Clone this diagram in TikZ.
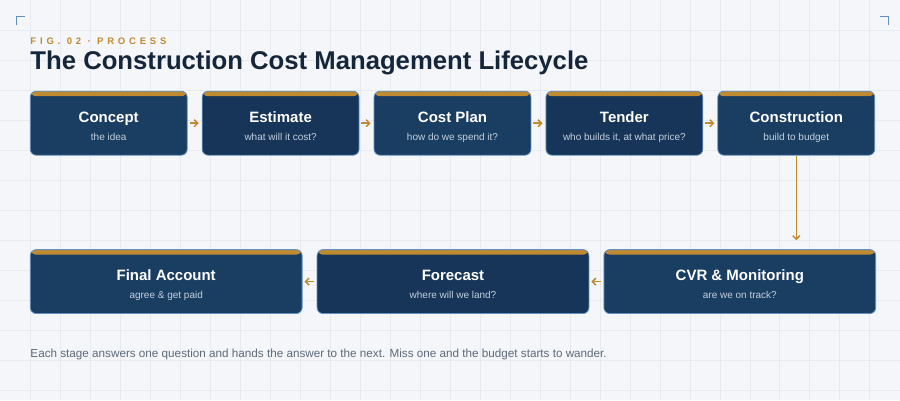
\documentclass[tikz,border=0pt]{standalone}
\usepackage{fontspec}
\setmainfont{Liberation Sans}
\usepackage{tikz}
\usetikzlibrary{arrows.meta}

\definecolor{paper}{HTML}{F4F6FA}
\definecolor{gridline}{HTML}{E7EBF1}
\definecolor{navy}{HTML}{1A3D62}
\definecolor{navydark}{HTML}{163558}
\definecolor{edge}{HTML}{6290C0}
\definecolor{gold}{HTML}{C08A30}
\definecolor{ink}{HTML}{16263A}
\definecolor{subtext}{HTML}{C3D0DF}
\definecolor{note}{HTML}{5C6A7A}

\begin{document}
\begin{tikzpicture}[x=1pt, y=-1pt,
    stage/.style={draw=edge, line width=0.8pt, fill=navy, rounded corners=6pt,
        minimum height=64pt, align=center, text=white,
        font=\fontsize{10}{18}\selectfont, text height=34pt, text depth=0pt,
        path picture={\fill[gold] (path picture bounding box.north west)
            rectangle ([yshift=-5pt]path picture bounding box.north east);}},
    small/.style={stage, minimum width=157pt},
    wide/.style={stage, minimum width=272pt},
    flow/.style={gold, line width=1.5pt, -{Straight Barb[length=3.5pt,width=7pt]}},
    corner/.style={edge, line width=1pt}]
    \fill[paper] (0,0) rectangle (900,400);
    \foreach \gx in {30,60,...,870} \draw[gridline, line width=0.6pt] (\gx,0) -- (\gx,400);
    \foreach \gy in {30,60,...,390} \draw[gridline, line width=0.6pt] (0,\gy) -- (900,\gy);
    \useasboundingbox (0,0) rectangle (900,400);

    % corner marks
    \draw[corner] (16,25) -- (16,16) -- (25,16);
    \draw[corner] (880,16) -- (889,16) -- (889,25);

    % heading
    \node[anchor=base west, inner sep=0, text=gold,
        font=\fontsize{9.5}{11}\selectfont\bfseries\addfontfeature{LetterSpace=40}]
        (fig) at (30,44) {FIG. 02 · PROCESS};
    \node[anchor=base west, inner sep=0, text=ink,
        font=\fontsize{25.7}{30}\selectfont\bfseries]
        (title) at (30,69) {The Construction Cost Management Lifecycle};

    % top row
    \node[small] (concept) at (108.5,123)
        {{\fontsize{15}{18}\selectfont\bfseries Concept}\\\textcolor{subtext}{the idea}};
    \node[small, fill=navydark] (estimate) at (280.5,123)
        {{\fontsize{15}{18}\selectfont\bfseries Estimate}\\\textcolor{subtext}{what will it cost?}};
    \node[small] (costplan) at (452.5,123)
        {{\fontsize{15}{18}\selectfont\bfseries Cost Plan}\\\textcolor{subtext}{how do we spend it?}};
    \node[small, fill=navydark] (tender) at (624.5,123)
        {{\fontsize{15}{18}\selectfont\bfseries Tender}\\\textcolor{subtext}{who builds it, at what price?}};
    \node[small] (construction) at (796.5,123)
        {{\fontsize{15}{18}\selectfont\bfseries Construction}\\\textcolor{subtext}{build to budget}};

    % bottom row
    \node[wide] (finalacc) at (166,281.5)
        {{\fontsize{15}{18}\selectfont\bfseries Final Account}\\\textcolor{subtext}{agree \& get paid}};
    \node[wide, fill=navydark] (forecast) at (453,281.5)
        {{\fontsize{15}{18}\selectfont\bfseries Forecast}\\\textcolor{subtext}{where will we land?}};
    \node[wide] (cvr) at (740,281.5)
        {{\fontsize{15}{18}\selectfont\bfseries CVR \& Monitoring}\\\textcolor{subtext}{are we on track?}};

    % arrows
    \draw[flow, shorten <=2pt, shorten >=3pt] (concept) -- (estimate);
    \draw[flow, shorten <=2pt, shorten >=3pt] (estimate) -- (costplan);
    \draw[flow, shorten <=2pt, shorten >=3pt] (costplan) -- (tender);
    \draw[flow, shorten <=2pt, shorten >=3pt] (tender) -- (construction);
    \draw[flow, shorten >=9pt] (construction.south) -- (construction.south |- cvr.north);
    \draw[flow, shorten <=3pt, shorten >=2pt] (cvr) -- (forecast);
    \draw[flow, shorten <=3pt, shorten >=2pt] (forecast) -- (finalacc);

    % footnote
    \node[anchor=base west, inner sep=0, text=note, font=\fontsize{11.7}{14}\selectfont]
        (footer) at (30,357.5) {Each stage answers one question and hands the answer to the next. Miss one and the budget starts to wander.};
\end{tikzpicture}
\end{document}
